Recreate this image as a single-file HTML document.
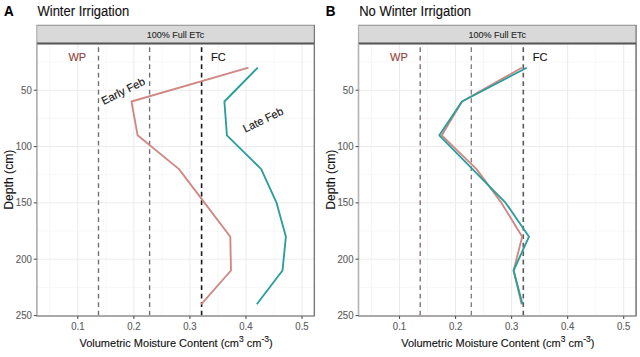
<!DOCTYPE html>
<html><head><meta charset="utf-8"><style>
html,body{margin:0;padding:0;background:#fff;}
svg{display:block;font-family:"Liberation Sans",sans-serif;} text{stroke:currentColor;stroke-width:0.12px;}
</style></head><body>
<svg width="640" height="357" viewBox="0 0 640 357">
<rect width="640" height="357" fill="#fff"/>
<line x1="49.78" y1="43.5" x2="49.78" y2="316.0" stroke="#f5f5f5" stroke-width="0.8"/>
<line x1="105.83" y1="43.5" x2="105.83" y2="316.0" stroke="#f5f5f5" stroke-width="0.8"/>
<line x1="161.88" y1="43.5" x2="161.88" y2="316.0" stroke="#f5f5f5" stroke-width="0.8"/>
<line x1="217.92" y1="43.5" x2="217.92" y2="316.0" stroke="#f5f5f5" stroke-width="0.8"/>
<line x1="273.98" y1="43.5" x2="273.98" y2="316.0" stroke="#f5f5f5" stroke-width="0.8"/>
<line x1="36.8" y1="62.06" x2="314.4" y2="62.06" stroke="#f5f5f5" stroke-width="0.8"/>
<line x1="36.8" y1="118.39" x2="314.4" y2="118.39" stroke="#f5f5f5" stroke-width="0.8"/>
<line x1="36.8" y1="174.71" x2="314.4" y2="174.71" stroke="#f5f5f5" stroke-width="0.8"/>
<line x1="36.8" y1="231.04" x2="314.4" y2="231.04" stroke="#f5f5f5" stroke-width="0.8"/>
<line x1="36.8" y1="287.36" x2="314.4" y2="287.36" stroke="#f5f5f5" stroke-width="0.8"/>
<line x1="77.80" y1="43.5" x2="77.80" y2="316.0" stroke="#ebebeb" stroke-width="1"/>
<line x1="133.85" y1="43.5" x2="133.85" y2="316.0" stroke="#ebebeb" stroke-width="1"/>
<line x1="189.90" y1="43.5" x2="189.90" y2="316.0" stroke="#ebebeb" stroke-width="1"/>
<line x1="245.95" y1="43.5" x2="245.95" y2="316.0" stroke="#ebebeb" stroke-width="1"/>
<line x1="302.00" y1="43.5" x2="302.00" y2="316.0" stroke="#ebebeb" stroke-width="1"/>
<line x1="36.8" y1="90.22" x2="314.4" y2="90.22" stroke="#ebebeb" stroke-width="1"/>
<line x1="36.8" y1="146.55" x2="314.4" y2="146.55" stroke="#ebebeb" stroke-width="1"/>
<line x1="36.8" y1="202.88" x2="314.4" y2="202.88" stroke="#ebebeb" stroke-width="1"/>
<line x1="36.8" y1="259.20" x2="314.4" y2="259.20" stroke="#ebebeb" stroke-width="1"/>
<line x1="98.5" y1="316.0" x2="98.5" y2="43.5" stroke="#6e6e6e" stroke-width="1.35" stroke-dasharray="4.6 3.9" stroke-dashoffset="-0.6"/>
<line x1="149.6" y1="316.0" x2="149.6" y2="43.5" stroke="#6e6e6e" stroke-width="1.35" stroke-dasharray="4.6 3.9" stroke-dashoffset="-0.6"/>
<line x1="201.6" y1="316.0" x2="201.6" y2="43.5" stroke="#1a1a1a" stroke-width="1.6" stroke-dasharray="4.6 3.9" stroke-dashoffset="-0.6"/>
<polyline points="248.5,67.7 131.5,101.5 137.6,135.3 179.0,169.1 204.6,202.9 230.3,236.7 231.0,270.5 201.2,304.3" fill="none" stroke="#cf8883" stroke-width="1.85" stroke-linejoin="round"/>
<polyline points="257.7,67.7 224.4,101.5 226.9,135.3 261.2,169.1 276.6,202.9 285.9,236.7 282.5,270.5 256.8,304.3" fill="none" stroke="#2a9d9d" stroke-width="1.85" stroke-linejoin="round"/>
<rect x="36.8" y="43.5" width="277.60" height="272.5" fill="none" stroke="#9a9a9a" stroke-width="1.2"/>
<rect x="36.8" y="25" width="277.60" height="18.5" fill="#d9d9d9" stroke="none"/>
<line x1="36.3" y1="25.2" x2="315.0" y2="25.2" stroke="#8c8c8c" stroke-width="1.1"/>
<line x1="36.8" y1="25" x2="36.8" y2="43.5" stroke="#b0b0b0" stroke-width="1.2"/>
<line x1="314.4" y1="25" x2="314.4" y2="43.5" stroke="#7a7a7a" stroke-width="1.3"/>
<line x1="36.8" y1="43.5" x2="314.4" y2="43.5" stroke="#555" stroke-width="1.8"/>
<text x="175.60" y="38.1" font-size="9" fill="#2a2a2a" color="#2a2a2a" text-anchor="middle">100% Full ETc</text>
<line x1="36.8" y1="43.5" x2="36.8" y2="316.0" stroke="#b5b5b5" stroke-width="1.4"/>
<line x1="36.8" y1="316.0" x2="314.4" y2="316.0" stroke="#8f8f8f" stroke-width="1.1"/>
<line x1="314.4" y1="43.5" x2="314.4" y2="316.0" stroke="#7a7a7a" stroke-width="1.3"/>
<line x1="77.80" y1="316.0" x2="77.80" y2="319.0" stroke="#555" stroke-width="1.1"/>
<text transform="translate(77.80,330.2) scale(1,1.13)" font-size="9.6" fill="#606060" color="#606060" text-anchor="middle">0.1</text>
<line x1="133.85" y1="316.0" x2="133.85" y2="319.0" stroke="#555" stroke-width="1.1"/>
<text transform="translate(133.85,330.2) scale(1,1.13)" font-size="9.6" fill="#606060" color="#606060" text-anchor="middle">0.2</text>
<line x1="189.90" y1="316.0" x2="189.90" y2="319.0" stroke="#555" stroke-width="1.1"/>
<text transform="translate(189.90,330.2) scale(1,1.13)" font-size="9.6" fill="#606060" color="#606060" text-anchor="middle">0.3</text>
<line x1="245.95" y1="316.0" x2="245.95" y2="319.0" stroke="#555" stroke-width="1.1"/>
<text transform="translate(245.95,330.2) scale(1,1.13)" font-size="9.6" fill="#606060" color="#606060" text-anchor="middle">0.4</text>
<line x1="302.00" y1="316.0" x2="302.00" y2="319.0" stroke="#555" stroke-width="1.1"/>
<text transform="translate(302.00,330.2) scale(1,1.13)" font-size="9.6" fill="#606060" color="#606060" text-anchor="middle">0.5</text>
<line x1="33.8" y1="90.22" x2="36.8" y2="90.22" stroke="#555" stroke-width="1.1"/>
<text transform="translate(31.80,93.62) scale(1,1.13)" font-size="9.6" fill="#606060" color="#606060" text-anchor="end">50</text>
<line x1="33.8" y1="146.55" x2="36.8" y2="146.55" stroke="#555" stroke-width="1.1"/>
<text transform="translate(31.80,149.95) scale(1,1.13)" font-size="9.6" fill="#606060" color="#606060" text-anchor="end">100</text>
<line x1="33.8" y1="202.88" x2="36.8" y2="202.88" stroke="#555" stroke-width="1.1"/>
<text transform="translate(31.80,206.28) scale(1,1.13)" font-size="9.6" fill="#606060" color="#606060" text-anchor="end">150</text>
<line x1="33.8" y1="259.20" x2="36.8" y2="259.20" stroke="#555" stroke-width="1.1"/>
<text transform="translate(31.80,262.60) scale(1,1.13)" font-size="9.6" fill="#606060" color="#606060" text-anchor="end">200</text>
<line x1="33.8" y1="315.52" x2="36.8" y2="315.52" stroke="#555" stroke-width="1.1"/>
<text transform="translate(31.80,318.92) scale(1,1.13)" font-size="9.6" fill="#606060" color="#606060" text-anchor="end">250</text>
<text x="176.10" y="347.2" font-size="11" fill="#111" color="#111" text-anchor="middle">Volumetric Moisture Content (cm<tspan font-size="8.5" dy="-5">3</tspan><tspan dy="5"> cm</tspan><tspan font-size="8.5" dy="-5">-3</tspan><tspan dy="5">)</tspan></text>
<text transform="translate(13,179.7) rotate(-90)" font-size="12.2" fill="#111" color="#111" text-anchor="middle">Depth (cm)</text>
<text transform="translate(4.1,15.5) scale(0.96,1.08)" font-size="14" font-weight="bold" fill="#000" color="#000">A</text>
<text transform="translate(37.5,15.75) scale(1,1.07)" font-size="13" fill="#111" color="#111">Winter Irrigation</text>
<text x="68.4" y="60.5" font-size="11" fill="#953f3c" color="#953f3c">WP</text>
<text x="211" y="60.5" font-size="11" fill="#111" color="#111">FC</text>
<text transform="translate(103.8,105) rotate(-26.5)" font-size="11" fill="#111" color="#111">Early Feb</text>
<text transform="translate(245.3,132.8) rotate(-26)" font-size="11" fill="#111" color="#111">Late Feb</text>
<line x1="371.48" y1="43.5" x2="371.48" y2="316.0" stroke="#f5f5f5" stroke-width="0.8"/>
<line x1="427.52" y1="43.5" x2="427.52" y2="316.0" stroke="#f5f5f5" stroke-width="0.8"/>
<line x1="483.57" y1="43.5" x2="483.57" y2="316.0" stroke="#f5f5f5" stroke-width="0.8"/>
<line x1="539.62" y1="43.5" x2="539.62" y2="316.0" stroke="#f5f5f5" stroke-width="0.8"/>
<line x1="595.67" y1="43.5" x2="595.67" y2="316.0" stroke="#f5f5f5" stroke-width="0.8"/>
<line x1="358.5" y1="62.06" x2="636.0999999999999" y2="62.06" stroke="#f5f5f5" stroke-width="0.8"/>
<line x1="358.5" y1="118.39" x2="636.0999999999999" y2="118.39" stroke="#f5f5f5" stroke-width="0.8"/>
<line x1="358.5" y1="174.71" x2="636.0999999999999" y2="174.71" stroke="#f5f5f5" stroke-width="0.8"/>
<line x1="358.5" y1="231.04" x2="636.0999999999999" y2="231.04" stroke="#f5f5f5" stroke-width="0.8"/>
<line x1="358.5" y1="287.36" x2="636.0999999999999" y2="287.36" stroke="#f5f5f5" stroke-width="0.8"/>
<line x1="399.50" y1="43.5" x2="399.50" y2="316.0" stroke="#ebebeb" stroke-width="1"/>
<line x1="455.55" y1="43.5" x2="455.55" y2="316.0" stroke="#ebebeb" stroke-width="1"/>
<line x1="511.60" y1="43.5" x2="511.60" y2="316.0" stroke="#ebebeb" stroke-width="1"/>
<line x1="567.65" y1="43.5" x2="567.65" y2="316.0" stroke="#ebebeb" stroke-width="1"/>
<line x1="623.70" y1="43.5" x2="623.70" y2="316.0" stroke="#ebebeb" stroke-width="1"/>
<line x1="358.5" y1="90.22" x2="636.0999999999999" y2="90.22" stroke="#ebebeb" stroke-width="1"/>
<line x1="358.5" y1="146.55" x2="636.0999999999999" y2="146.55" stroke="#ebebeb" stroke-width="1"/>
<line x1="358.5" y1="202.88" x2="636.0999999999999" y2="202.88" stroke="#ebebeb" stroke-width="1"/>
<line x1="358.5" y1="259.20" x2="636.0999999999999" y2="259.20" stroke="#ebebeb" stroke-width="1"/>
<line x1="420.2" y1="316.0" x2="420.2" y2="43.5" stroke="#84687a" stroke-width="1.35" stroke-dasharray="4.6 3.9" stroke-dashoffset="-0.6"/>
<line x1="471.29999999999995" y1="316.0" x2="471.29999999999995" y2="43.5" stroke="#857c86" stroke-width="1.35" stroke-dasharray="4.6 3.9" stroke-dashoffset="-0.6"/>
<line x1="523.3" y1="316.0" x2="523.3" y2="43.5" stroke="#5a5a5a" stroke-width="1.6" stroke-dasharray="4.6 3.9" stroke-dashoffset="-0.6"/>
<polyline points="521.8,67.7 462.0,101.5 441.8,135.3 476.5,169.1 501.5,202.9 522.2,236.7 513.6,270.5 521.6,304.3" fill="none" stroke="#cf8883" stroke-width="1.85" stroke-linejoin="round"/>
<polyline points="526.8,67.7 462.0,101.5 439.3,135.3 472.5,169.1 505.7,202.9 529.0,236.7 513.6,270.5 522.5,304.3" fill="none" stroke="#2a9d9d" stroke-width="1.85" stroke-linejoin="round"/>
<rect x="358.5" y="43.5" width="277.60" height="272.5" fill="none" stroke="#9a9a9a" stroke-width="1.2"/>
<rect x="358.5" y="25" width="277.60" height="18.5" fill="#d9d9d9" stroke="none"/>
<line x1="358.0" y1="25.2" x2="636.6999999999999" y2="25.2" stroke="#8c8c8c" stroke-width="1.1"/>
<line x1="358.5" y1="25" x2="358.5" y2="43.5" stroke="#b0b0b0" stroke-width="1.2"/>
<line x1="636.0999999999999" y1="25" x2="636.0999999999999" y2="43.5" stroke="#7a7a7a" stroke-width="1.3"/>
<line x1="358.5" y1="43.5" x2="636.0999999999999" y2="43.5" stroke="#555" stroke-width="1.8"/>
<text x="497.30" y="38.1" font-size="9" fill="#2a2a2a" color="#2a2a2a" text-anchor="middle">100% Full ETc</text>
<line x1="358.5" y1="43.5" x2="358.5" y2="316.0" stroke="#b5b5b5" stroke-width="1.4"/>
<line x1="358.5" y1="316.0" x2="636.0999999999999" y2="316.0" stroke="#8f8f8f" stroke-width="1.1"/>
<line x1="636.0999999999999" y1="43.5" x2="636.0999999999999" y2="316.0" stroke="#7a7a7a" stroke-width="1.3"/>
<line x1="399.50" y1="316.0" x2="399.50" y2="319.0" stroke="#555" stroke-width="1.1"/>
<text transform="translate(399.50,330.2) scale(1,1.13)" font-size="9.6" fill="#606060" color="#606060" text-anchor="middle">0.1</text>
<line x1="455.55" y1="316.0" x2="455.55" y2="319.0" stroke="#555" stroke-width="1.1"/>
<text transform="translate(455.55,330.2) scale(1,1.13)" font-size="9.6" fill="#606060" color="#606060" text-anchor="middle">0.2</text>
<line x1="511.60" y1="316.0" x2="511.60" y2="319.0" stroke="#555" stroke-width="1.1"/>
<text transform="translate(511.60,330.2) scale(1,1.13)" font-size="9.6" fill="#606060" color="#606060" text-anchor="middle">0.3</text>
<line x1="567.65" y1="316.0" x2="567.65" y2="319.0" stroke="#555" stroke-width="1.1"/>
<text transform="translate(567.65,330.2) scale(1,1.13)" font-size="9.6" fill="#606060" color="#606060" text-anchor="middle">0.4</text>
<line x1="623.70" y1="316.0" x2="623.70" y2="319.0" stroke="#555" stroke-width="1.1"/>
<text transform="translate(623.70,330.2) scale(1,1.13)" font-size="9.6" fill="#606060" color="#606060" text-anchor="middle">0.5</text>
<line x1="355.5" y1="90.22" x2="358.5" y2="90.22" stroke="#555" stroke-width="1.1"/>
<text transform="translate(353.50,93.62) scale(1,1.13)" font-size="9.6" fill="#606060" color="#606060" text-anchor="end">50</text>
<line x1="355.5" y1="146.55" x2="358.5" y2="146.55" stroke="#555" stroke-width="1.1"/>
<text transform="translate(353.50,149.95) scale(1,1.13)" font-size="9.6" fill="#606060" color="#606060" text-anchor="end">100</text>
<line x1="355.5" y1="202.88" x2="358.5" y2="202.88" stroke="#555" stroke-width="1.1"/>
<text transform="translate(353.50,206.28) scale(1,1.13)" font-size="9.6" fill="#606060" color="#606060" text-anchor="end">150</text>
<line x1="355.5" y1="259.20" x2="358.5" y2="259.20" stroke="#555" stroke-width="1.1"/>
<text transform="translate(353.50,262.60) scale(1,1.13)" font-size="9.6" fill="#606060" color="#606060" text-anchor="end">200</text>
<line x1="355.5" y1="315.52" x2="358.5" y2="315.52" stroke="#555" stroke-width="1.1"/>
<text transform="translate(353.50,318.92) scale(1,1.13)" font-size="9.6" fill="#606060" color="#606060" text-anchor="end">250</text>
<text x="497.80" y="347.2" font-size="11" fill="#111" color="#111" text-anchor="middle">Volumetric Moisture Content (cm<tspan font-size="8.5" dy="-5">3</tspan><tspan dy="5"> cm</tspan><tspan font-size="8.5" dy="-5">-3</tspan><tspan dy="5">)</tspan></text>
<text transform="translate(334.7,179.7) rotate(-90)" font-size="12.2" fill="#111" color="#111" text-anchor="middle">Depth (cm)</text>
<text transform="translate(325.8,15.5) scale(0.96,1.08)" font-size="14" font-weight="bold" fill="#000" color="#000">B</text>
<text transform="translate(359.2,15.75) scale(1,1.07)" font-size="13" fill="#111" color="#111">No Winter Irrigation</text>
<text x="390.1" y="60.5" font-size="11" fill="#953f3c" color="#953f3c">WP</text>
<text x="532.7" y="60.5" font-size="11" fill="#111" color="#111">FC</text>
</svg>
</body></html>
